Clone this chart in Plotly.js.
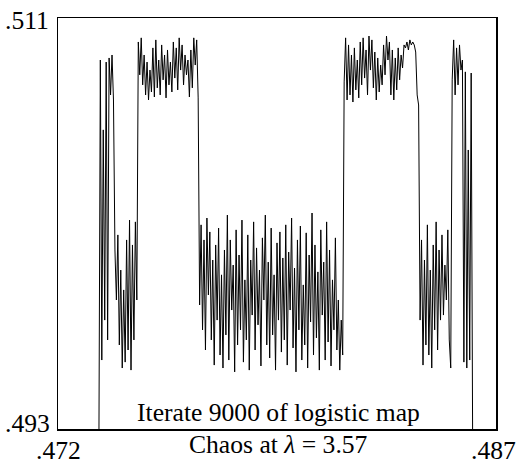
<!DOCTYPE html>
<html>
<head>
<meta charset="utf-8">
<script src="https://cdn.plot.ly/plotly-3.0.1.min.js"></script>
<style>html,body{margin:0;padding:0;background:#fff;}#chart{width:516px;height:465px;}</style>
</head>
<body>
<div id="chart"></div>
<script>
// Initial value x0 (horizontal) vs. iterate 9000 of the logistic map (vertical)
const xRiseLeft = [0.47340,0.47345,0.47350,0.47355,0.47360,0.47365,0.47370,0.47375,0.47380,0.47385,0.47390,0.47395,0.47400,0.47405,0.47410,0.47415,0.47420,0.47425,0.47430,0.47435,0.47440,0.47445,0.47450,0.47455,0.47460,0.47465,0.47470];
const yRiseLeft = [0.4920,0.50916,0.49602,0.50610,0.49777,0.50907,0.49690,0.50925,0.50763,0.50938,0.50741,0.50084,0.49865,0.50150,0.49668,0.49996,0.49567,0.49909,0.49593,0.50128,0.49646,0.50215,0.49558,0.50106,0.49690,0.50207,0.49865];

const xUpperA = [0.47475,0.47480,0.47485,0.47490,0.47495,0.47500,0.47505,0.47510,0.47515,0.47520,0.47525,0.47530,0.47535,0.47540,0.47545,0.47550,0.47555,0.47560,0.47565,0.47570,0.47575,0.47580,0.47585,0.47590,0.47595,0.47600,0.47605,0.47610,0.47615,0.47620,0.47625,0.47630,0.47635,0.47640,0.47645,0.47650,0.47655,0.47660,0.47665,0.47670,0.47675,0.47680];
const yUpperA = [0.50995,0.50851,0.51013,0.50807,0.50938,0.50763,0.50907,0.50741,0.50872,0.50776,
0.50969,0.50754,0.51004,0.50794,0.50916,0.50763,0.50982,0.50829,0.50938,0.50750,
0.50960,0.50807,0.50907,0.50776,0.50995,0.50837,0.50969,0.50785,0.51013,0.50872,
0.50982,0.50807,0.50938,0.50851,0.50916,0.50754,0.50960,0.50794,0.51013,0.50894,
0.51004,0.50750];

const xLowerA = [0.47685,0.47690,0.47695,0.47700,0.47705,0.47710,0.47715,0.47720,0.47725,0.47730,
0.47735,0.47740,0.47745,0.47750,0.47755,0.47760,0.47765,0.47770,0.47775,0.47780,
0.47785,0.47790,0.47795,0.47800,0.47805,0.47810,0.47815,0.47820,0.47825,0.47830,
0.47835,0.47840,0.47845,0.47850,0.47855,0.47860,0.47865,0.47870,0.47875,0.47880,
0.47885,0.47890,0.47895,0.47900,0.47905,0.47910,0.47915,0.47920,0.47925,0.47930,
0.47935,0.47940,0.47945,0.47950,0.47955,0.47960,0.47965,0.47970,0.47975,0.47980,
0.47985,0.47990,0.47995,0.48000,0.48005,0.48010,0.48015,0.48020,0.48025,0.48030,
0.48035,0.48040,0.48045,0.48050,0.48055,0.48060,0.48065,0.48070,0.48075,0.48080,
0.48085,0.48090,0.48095,0.48100,0.48105,0.48110,0.48115,0.48120,0.48125,0.48130,
0.48135,0.48140,0.48145,0.48150,0.48155,0.48160,0.48165,0.48170,0.48175];
const yLowerA = [0.49843,0.50194,0.49734,0.50128,0.49646,0.50224,0.49887,0.50163,0.49690,0.50040,
0.49580,0.50106,0.49777,0.50180,0.49624,0.49975,0.49567,0.50084,0.49712,0.50237,
0.49602,0.50128,0.49821,0.50018,0.49550,0.50172,0.49668,0.50062,0.49734,0.50215,
0.49593,0.49953,0.49690,0.50150,0.49558,0.50040,0.49799,0.50207,0.49646,0.50093,
0.49756,0.49996,0.49576,0.50137,0.49865,0.50237,0.49668,0.50031,0.49611,0.50180,
0.49712,0.49975,0.49558,0.50115,0.49777,0.50163,0.49637,0.50049,0.49690,0.50194,
0.49580,0.50075,0.49821,0.50224,0.49655,0.50005,0.49550,0.50128,0.49734,0.50189,
0.49602,0.49931,0.49668,0.50159,0.49567,0.50062,0.49769,0.50246,0.49624,0.50106,
0.49699,0.49988,0.49558,0.50172,0.49799,0.50031,0.49602,0.50207,0.49681,0.50084,
0.49576,0.49953,0.49734,0.50137,0.49646,0.49865,0.49558,0.49777,0.49624];

const xUpperB = [0.48180,0.48185,0.48190,0.48195,0.48200,0.48205,0.48210,0.48215,0.48220,0.48225,
0.48230,0.48235,0.48240,0.48245,0.48250,0.48255,0.48260,0.48265,0.48270,0.48275,
0.48280,0.48285,0.48290,0.48295,0.48300,0.48305,0.48310,0.48315,0.48320,0.48325,
0.48330,0.48335,0.48340,0.48345,0.48350,0.48355,0.48360,0.48365,0.48370,0.48375,
0.48380,0.48385,0.48390,0.48395,0.48400,0.48405,0.48410,0.48415,0.48420,0.48425,
0.48430,0.48435];
const yUpperB = [0.50820,
0.51013,0.50741,0.50982,0.50763,0.50938,0.50732,0.50969,0.50785,0.50916,0.50750,
0.50995,0.50807,0.51013,0.50837,0.50960,0.50763,0.51021,0.50872,0.51004,0.50794,
0.50951,0.50741,0.50925,0.50776,0.50894,0.50807,0.50982,0.50851,0.51021,0.50916,
0.50995,0.50763,0.50960,0.50741,0.50925,0.50785,0.50969,0.50829,0.50938,0.50881,
0.50982,0.50969,0.50995,0.50960,0.51004,0.50982,0.50995,0.50982,0.50951,0.50763,
0.50719];

const xLowerB = [0.48440,0.48445,0.48450,0.48455,0.48460,0.48465,0.48470,0.48475,0.48480,0.48485,
0.48490,0.48495,0.48500,0.48505,0.48510,0.48515,0.48520,0.48525,0.48530,0.48535,
0.48540,0.48545];
const yLowerB = [0.49777,0.50128,0.49580,0.50040,0.49668,0.50194,0.49624,0.49996,0.49567,0.50106,
0.49734,0.50207,0.49646,0.50084,0.49777,0.50150,0.49799,0.50018,0.49865,0.50172,
0.49690,0.49567];

const xUpperC = [0.48550,0.48555,0.48560,0.48565,0.48570,0.48575,0.48580,0.48585];
const yUpperC = [0.50829,0.51004,0.50763,0.50969,0.50807,0.50982,0.50872,0.50916];

const xFallRight = [0.48590,0.48595,0.48600,0.48605,0.48610,0.48615,0.48620,0.48625];
const yFallRight = [0.49593,0.50864,0.49567,0.50522,0.49602,0.50859,0.49252,0.4920];

// Axis ranges and corner tick labels
const xRange = [0.472, 0.487];
const yRange = [0.493, 0.511];
const xTickText = ['.472', '.487'];
const yTickText = ['.493', '.511'];
const innerLabel = 'Iterate 9000 of logistic map';
const xTitle = 'Chaos at <i>λ</i> = 3.57';

const xs = [].concat(xRiseLeft, xUpperA, xLowerA, xUpperB, xLowerB, xUpperC, xFallRight);
const ys = [].concat(yRiseLeft, yUpperA, yLowerA, yUpperB, yLowerB, yUpperC, yFallRight);

const FONT = 'Liberation Serif';
const fsz = 25.6;

const trace = {
  x: xs, y: ys, type: 'scatter', mode: 'lines',
  line: {color: '#000', width: 1},
  hoverinfo: 'none', showlegend: false
};

// plot area in paper px: x 58..496, y 18..429
const W = 438, H = 411;
function px2paperX(p){ return (p - 58) / W; }
function py2paperY(p){ return (429 - p) / H; }

const annotations = [
  {text: yTickText[1], x: px2paperX(27), y: py2paperY(21)},
  {text: yTickText[0], x: px2paperX(27.5), y: py2paperY(423)},
  {text: xTickText[0], x: px2paperX(58), y: py2paperY(450.5)},
  {text: xTickText[1], x: px2paperX(493), y: py2paperY(450.5)},
  {text: xTitle, x: px2paperX(278.5), y: py2paperY(444)},
  {text: innerLabel, x: px2paperX(278.5), y: py2paperY(412)}
].map(a => Object.assign({xref: 'paper', yref: 'paper', showarrow: false,
  xanchor: 'center', yanchor: 'middle', font: {family: FONT, size: fsz, color: '#000'}}, a));

const layout = {
  width: 516, height: 465,
  margin: {l: 58, r: 20, t: 18, b: 36, pad: 0},
  paper_bgcolor: '#fff', plot_bgcolor: '#fff',
  xaxis: {range: xRange, showgrid: false, zeroline: false, showticklabels: false, ticks: '',
          showline: true, mirror: true, linecolor: '#000', linewidth: 1.5, fixedrange: true},
  yaxis: {range: yRange, showgrid: false, zeroline: false, showticklabels: false, ticks: '',
          showline: true, mirror: true, linecolor: '#000', linewidth: 1.5, fixedrange: true},
  annotations: annotations,
  font: {family: FONT, color: '#000'}
};

Plotly.newPlot('chart', [trace], layout, {displayModeBar: false, staticPlot: true});
</script>
</body>
</html>
